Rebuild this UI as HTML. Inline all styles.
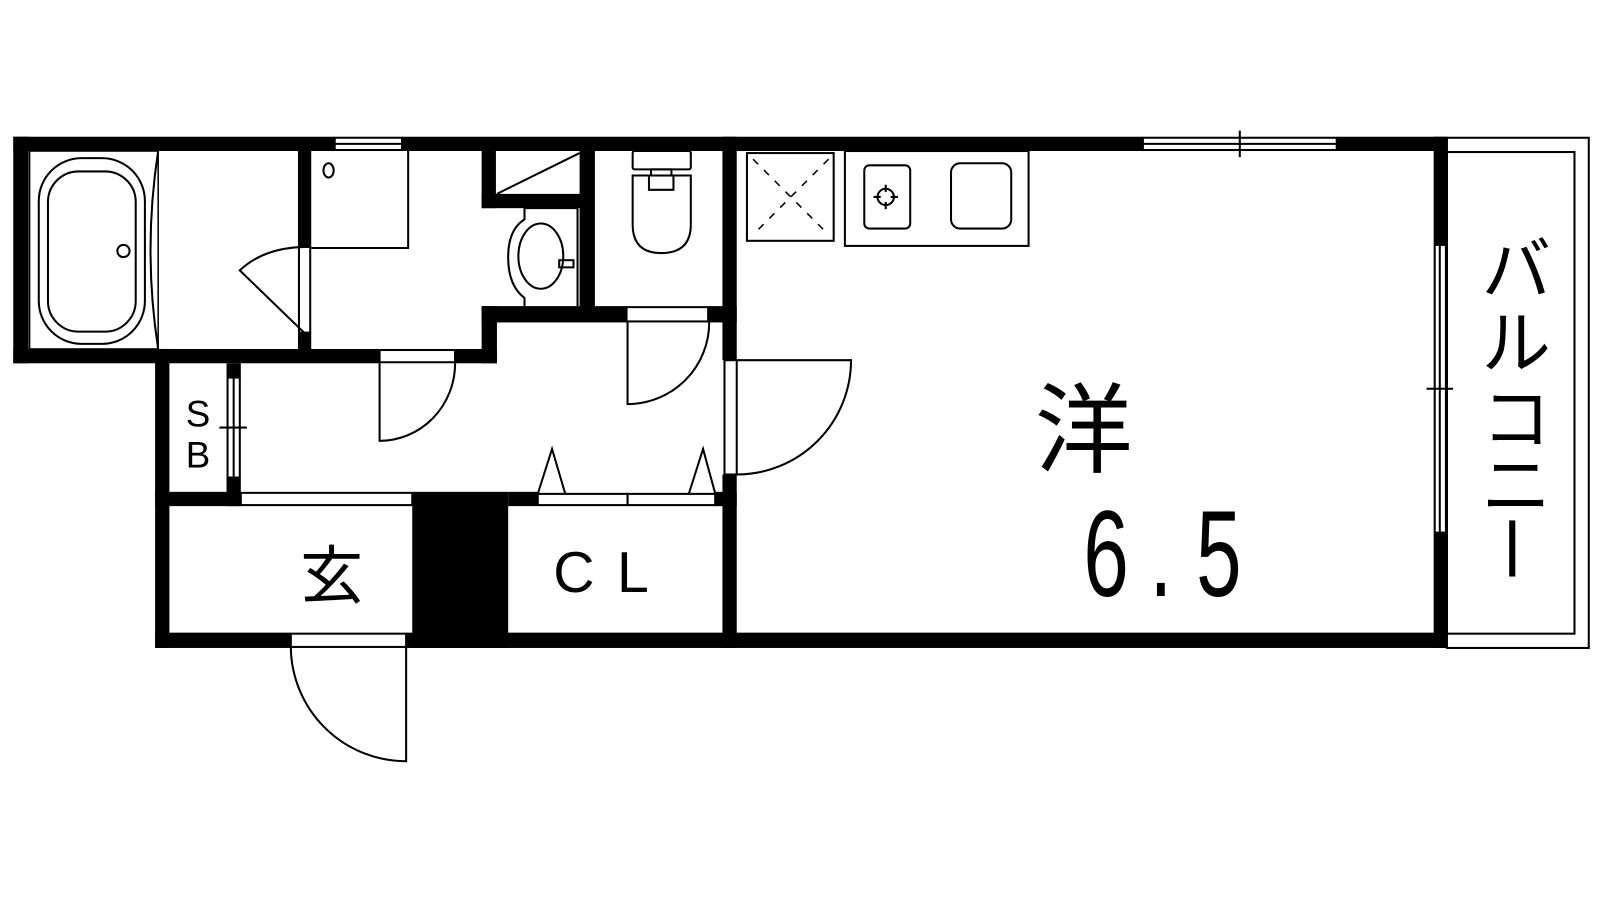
<!DOCTYPE html>
<html><head><meta charset="utf-8"><style>html,body{margin:0;padding:0;background:#fff}svg{display:block}</style></head>
<body>
<svg width="1600" height="900" viewBox="0 0 1568 882" xmlns="http://www.w3.org/2000/svg">
<rect width="1568" height="882" fill="#fff"/>
<g fill="#000">
<rect x="13" y="134" width="315" height="14"/>
<rect x="394" y="134" width="726" height="14"/>
<rect x="1310" y="134" width="108" height="14"/>
<rect x="13" y="134" width="15" height="222"/>
<rect x="13" y="342" width="359" height="14"/>
<rect x="445" y="342" width="42" height="14"/>
<rect x="292" y="148" width="13" height="94"/>
<rect x="292" y="326" width="13" height="20"/>
<rect x="472" y="148" width="14" height="56"/>
<rect x="472" y="190" width="110" height="14"/>
<rect x="568" y="148" width="15" height="154"/>
<rect x="472" y="300" width="15" height="56"/>
<rect x="472" y="300" width="142" height="16"/>
<rect x="694" y="300" width="28" height="16"/>
<rect x="708" y="134" width="14" height="219"/>
<rect x="708" y="465" width="14" height="170"/>
<rect x="152" y="342" width="14" height="293"/>
<rect x="222" y="356" width="14" height="14"/>
<rect x="222" y="468" width="14" height="28"/>
<rect x="152" y="482" width="84" height="14"/>
<rect x="404" y="482" width="94" height="153"/>
<rect x="498" y="482" width="29" height="14"/>
<rect x="700" y="482" width="22" height="14"/>
<rect x="152" y="620" width="133" height="15"/>
<rect x="398" y="620" width="1020" height="15"/>
<rect x="1405" y="134" width="13" height="106"/>
<rect x="1405" y="522" width="13" height="113"/>
</g>
<g fill="none" stroke="#000" stroke-width="2">
<rect x="328" y="135" width="66" height="12"/><line x1="328" y1="141" x2="394" y2="141"/>
<rect x="1120" y="135" width="190" height="12"/><line x1="1120" y1="141" x2="1310" y2="141"/>
<line x1="1215" y1="128" x2="1215" y2="154"/>
<rect x="1406" y="240" width="11" height="282"/><line x1="1411" y1="240" x2="1411" y2="522"/>
<line x1="1398" y1="381" x2="1424" y2="381"/>
<rect x="223" y="370" width="12" height="98"/><line x1="229" y1="370" x2="229" y2="468"/>
<line x1="215" y1="419" x2="242" y2="419"/>
<rect x="1418" y="135" width="139" height="500"/>
<rect x="1418" y="149" width="125" height="472"/>
<rect x="29" y="148" width="126" height="194" stroke-width="1.5"/>
<rect x="38" y="155" width="104" height="182" rx="42" ry="42"/>
<rect x="47" y="168" width="86" height="157" rx="30" ry="30"/>
<circle cx="121" cy="246" r="6"/>
<path d="M155 148 Q140 245 155 342"/>
<rect x="293" y="242" width="11" height="84"/>
<path d="M298 326 L235 265 Q258 243 298 242"/>
<polyline points="305,243 400,243 400,148"/>
<ellipse cx="322" cy="167" rx="5" ry="7"/>
<line x1="487" y1="190" x2="568" y2="150"/>
<path d="M566 204 L514 204 L514 215 Q498 225 498 252 Q498 280 514 292 L514 300"/>
<line x1="566" y1="204" x2="566" y2="300"/>
<ellipse cx="530" cy="251" rx="22" ry="32"/>
<rect x="548" y="255" width="14" height="7"/>
<rect x="620" y="148" width="57" height="18" rx="2"/>
<rect x="638" y="166" width="20" height="6"/>
<path d="M620 172 L677 172 L677 220 Q677 248 648 248 Q620 248 620 220 Z"/>
<path d="M636 172 L636 186 L660 186 L660 172"/>
<rect x="372" y="343" width="74" height="12"/>
<path d="M372 356 L372 432 A74 76 0 0 0 446 356"/>
<rect x="614" y="301" width="80" height="14"/>
<path d="M615 316 L615 396 A80 80 0 0 0 695 316"/>
<rect x="710" y="353" width="12" height="112"/>
<path d="M722 353 L834 353 A112 112 0 0 1 722 465"/>
<rect x="236" y="483" width="168" height="12"/>
<rect x="527" y="484" width="88" height="11"/>
<rect x="615" y="484" width="86" height="11"/>
<path d="M527 484 L541 440 L554 484"/>
<path d="M675 484 L689 440 L701 484"/>
<rect x="285" y="621" width="113" height="13"/>
<path d="M398 634 L398 746 A113 113 0 0 1 285 634"/>
<rect x="732" y="150" width="85" height="86"/>
<g stroke-dasharray="7,8" stroke-width="1.5"><line x1="738" y1="156" x2="812" y2="230"/><line x1="812" y1="156" x2="738" y2="230"/></g>
<rect x="828" y="148" width="180" height="93"/>
<rect x="847" y="162" width="45" height="62" rx="5"/>
<circle cx="868" cy="193" r="8"/>
<line x1="868" y1="181" x2="868" y2="205"/><line x1="856" y1="193" x2="880" y2="193"/>
<rect x="932" y="160" width="59" height="64" rx="9"/>
</g>
<circle cx="868" cy="193" r="5" fill="#fff"/>
<g font-family="'Liberation Sans','Noto Sans CJK JP',sans-serif" fill="#000" text-anchor="middle">
<text x="1062" y="455" font-size="96">洋</text>
<g transform="translate(0 584) scale(0.8 1.2)">
<text x="1355" y="0" font-size="100">6</text>
<text x="1422" y="0" font-size="100">.</text>
<text x="1493" y="0" font-size="100">5</text>
</g>
<text x="1486" y="288" font-size="68">バ</text>
<text x="1486" y="360" font-size="68">ル</text>
<text x="1486" y="434" font-size="68">コ</text>
<text x="1486" y="500" font-size="68">ニ</text>
<rect x="1479" y="510" width="6" height="55"/>
<text x="325" y="586" font-size="62">玄</text>
<text x="600" y="580" font-size="56" letter-spacing="22">CL</text>
<text x="194" y="418" font-size="36">S</text>
<text x="194" y="458" font-size="36">B</text>
</g>
</svg>
</body></html>
